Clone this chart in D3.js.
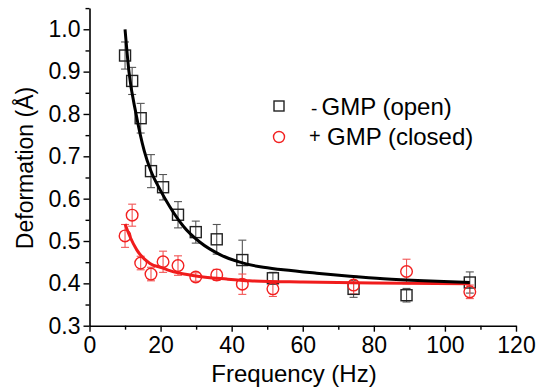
<!DOCTYPE html>
<html>
<head>
<meta charset="utf-8">
<script src="https://cdn.jsdelivr.net/npm/d3@7"></script>
<style>
  body { margin: 0; background: #fff; }
  text { font-family: "Liberation Sans", Arial, sans-serif; fill: #000; }
</style>
</head>
<body>
<svg id="chart" width="536" height="390"></svg>
<script>
// measured points
var freq = [10, 12, 14.4, 17.3, 20.7, 24.9, 29.9, 35.8, 43, 51.6, 74.3, 89.2, 107];
var openVal = [0.938, 0.878, 0.790, 0.665, 0.627, 0.562, 0.521, 0.504, 0.455, 0.412, 0.387, 0.372, 0.402];
var openErr = [0.032, 0.032, 0.035, 0.039, 0.030, 0.031, 0.026, 0.035, 0.047, 0.014, 0.020, 0.016, 0.025];
var closedVal = [0.512, 0.561, 0.448, 0.422, 0.451, 0.442, 0.415, 0.420, 0.398, 0.387, 0.396, 0.428, 0.380];
var closedErr = [0.027, 0.026, 0.016, 0.016, 0.025, 0.023, 0.010, 0.013, 0.024, 0.018, 0.021, 0.029, 0.016];

// fitted curves
var openFitF = [10, 11.1, 13.1, 15.4, 17.2, 19.8, 22.6, 26.4, 31.1, 36.7, 42.3, 48, 54.5, 63.9, 73.3, 82.7, 94, 107];
var openFitV = [1.0, 0.9, 0.8, 0.713, 0.667, 0.622, 0.581, 0.535, 0.497, 0.468, 0.450, 0.439, 0.432, 0.424, 0.417, 0.411, 0.406, 0.402];
var closedFitF = [10, 11.4, 13.3, 17, 20.7, 22.6, 29.5, 38.6, 45, 60, 80, 107];
var closedFitV = [0.540, 0.510, 0.479, 0.447, 0.436, 0.430, 0.418, 0.410, 0.406, 0.403, 0.401, 0.399];

var xTicks = [0, 20, 40, 60, 80, 100, 120];
var xMinor = [10, 30, 50, 70, 90, 110];
var yTicks = [0.3, 0.4, 0.5, 0.6, 0.7, 0.8, 0.9, 1.0];
var yMinor = [0.35, 0.45, 0.55, 0.65, 0.75, 0.85, 0.95, 1.05];

var svg = d3.select("#chart");

var x = d3.scaleLinear().domain([0, 120]).range([89.5, 516]);
var y = d3.scaleLinear().domain([0.3, 1.05]).range([325.7, 8.1]);

var fontSize = "23px";

// minor ticks first
svg.append("g")
    .attr("transform", "translate(0," + y(0.3) + ")")
    .call(d3.axisBottom(x).tickValues(xMinor).tickSize(4).tickSizeOuter(0).tickFormat(""))
    .call(g => g.select(".domain").remove());
svg.append("g")
    .attr("transform", "translate(" + x(0) + ",0)")
    .call(d3.axisLeft(y).tickValues(yMinor).tickSize(4).tickSizeOuter(0).tickFormat(""))
    .call(g => g.select(".domain").remove());

var xAxis = svg.append("g")
    .attr("transform", "translate(0," + y(0.3) + ")")
    .call(d3.axisBottom(x).tickValues(xTicks).tickSize(6).tickPadding(5).tickSizeOuter(0).tickFormat(d3.format("d")));
var yAxis = svg.append("g")
    .attr("transform", "translate(" + x(0) + ",0)")
    .call(d3.axisLeft(y).tickValues(yTicks).tickSize(6).tickPadding(3).tickSizeOuter(0).tickFormat(d3.format(".1f")));

svg.selectAll(".tick line").attr("stroke", "#000").attr("stroke-width", 1.4);
svg.selectAll(".domain").attr("stroke", "#000").attr("stroke-width", 1.6);
svg.selectAll(".tick text").style("font-size", fontSize).attr("fill", "#000");

// error bars
function errorBars(vals, errs, color) {
    var g = svg.append("g").attr("stroke", color).attr("stroke-width", 1.1).attr("fill", "none");
    freq.forEach(function (f, i) {
        var cx = x(f), top = y(vals[i] + errs[i]), bot = y(vals[i] - errs[i]);
        g.append("line").attr("x1", cx).attr("x2", cx).attr("y1", top).attr("y2", bot);
        g.append("line").attr("x1", cx - 4).attr("x2", cx + 4).attr("y1", top).attr("y2", top);
        g.append("line").attr("x1", cx - 4).attr("x2", cx + 4).attr("y1", bot).attr("y2", bot);
    });
}
errorBars(openVal, openErr, "#555");
errorBars(closedVal, closedErr, "#f25555");

// markers
svg.append("g").selectAll("rect")
    .data(freq.map((f, i) => [f, openVal[i]]))
    .enter().append("rect")
    .attr("x", d => x(d[0]) - 5.5)
    .attr("y", d => y(d[1]) - 5.5)
    .attr("width", 11).attr("height", 11)
    .attr("fill", "none").attr("stroke", "#222").attr("stroke-width", 1.4);

svg.append("g").selectAll("circle")
    .data(freq.map((f, i) => [f, closedVal[i]]))
    .enter().append("circle")
    .attr("cx", d => x(d[0]))
    .attr("cy", d => y(d[1]))
    .attr("r", 5.8)
    .attr("fill", "none").attr("stroke", "#f22020").attr("stroke-width", 1.4);

// fit curves
var line = d3.line().x(d => x(d[0])).y(d => y(d[1])).curve(d3.curveMonotoneX);

svg.append("path")
    .datum(closedFitF.map((f, i) => [f, closedFitV[i]]))
    .attr("d", line)
    .attr("fill", "none").attr("stroke", "#f01c1c").attr("stroke-width", 3);

svg.append("path")
    .datum(openFitF.map((f, i) => [f, openFitV[i]]))
    .attr("d", line)
    .attr("fill", "none").attr("stroke", "#000").attr("stroke-width", 3);

// legend
var legend = svg.append("g");
legend.append("rect").attr("x", 274).attr("y", 101).attr("width", 10).attr("height", 10)
    .attr("fill", "none").attr("stroke", "#222").attr("stroke-width", 1.4);
legend.append("circle").attr("cx", 279).attr("cy", 137).attr("r", 5.5)
    .attr("fill", "none").attr("stroke", "#f22020").attr("stroke-width", 1.4);

legend.append("text").attr("x", 311).attr("y", 115).style("font-size", "19px").text("-");
legend.append("text").attr("x", 321.5).attr("y", 115).style("font-size", "24px").text("GMP (open)");
legend.append("text").attr("x", 309).attr("y", 143).style("font-size", "20px").text("+");
legend.append("text").attr("x", 327).attr("y", 144.5).style("font-size", "24px").text("GMP (closed)");

// axis titles
svg.append("text")
    .attr("x", 294).attr("y", 382)
    .attr("text-anchor", "middle")
    .style("font-size", "24px")
    .text("Frequency (Hz)");

svg.append("text")
    .attr("transform", "translate(33,168) rotate(-90)")
    .attr("text-anchor", "middle")
    .style("font-size", "23px")
    .text("Deformation (Å)");
</script>
</body>
</html>
